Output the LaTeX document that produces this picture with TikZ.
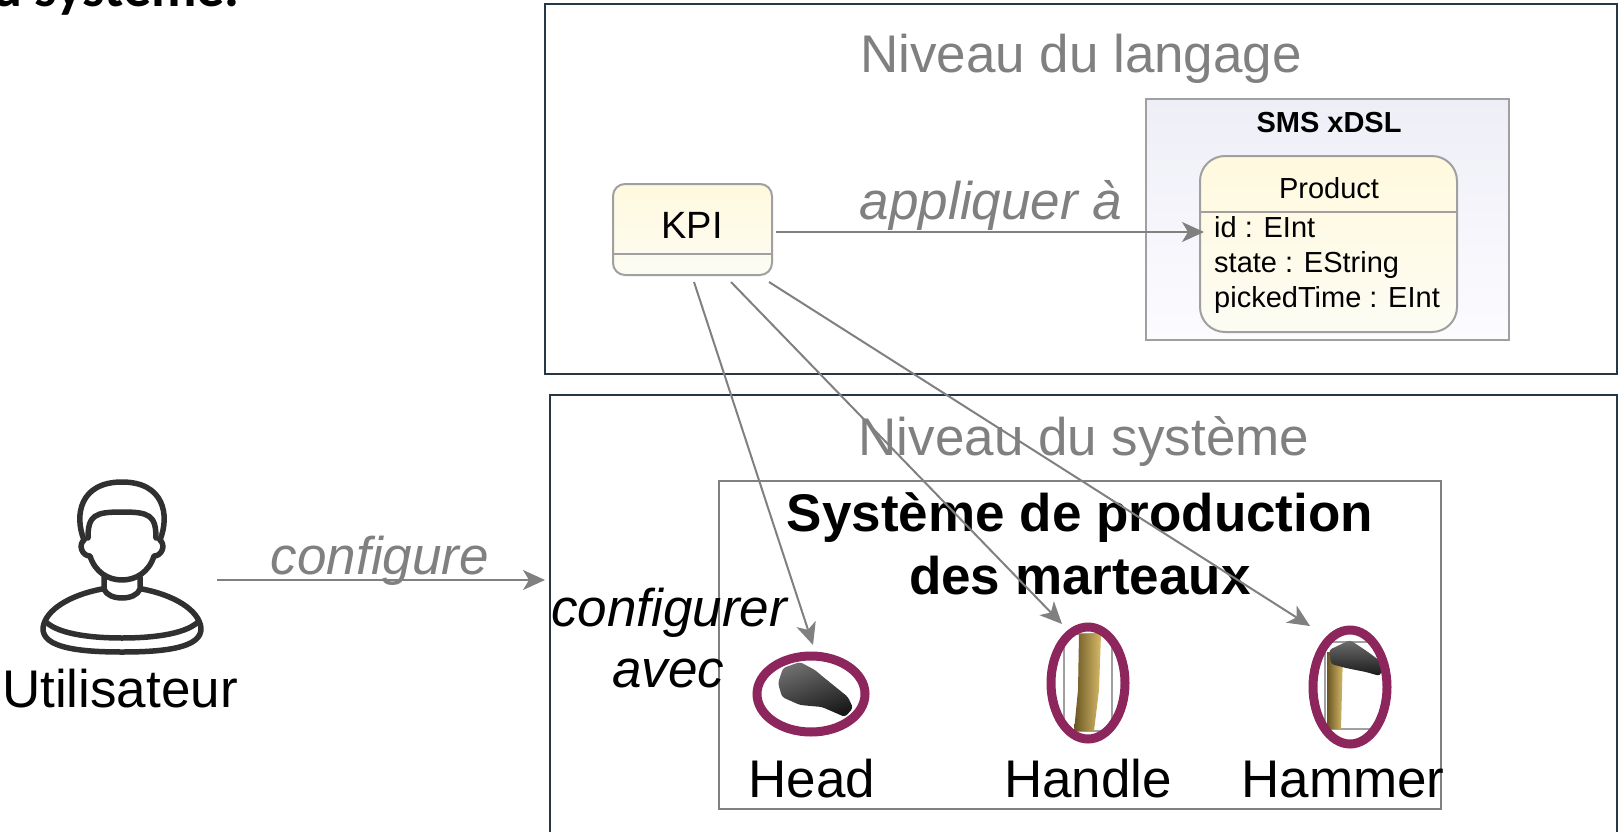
\documentclass[tikz,border=0pt]{standalone}
\usepackage{fontspec}
\setmainfont{Liberation Sans}
\newfontfamily\headingfont{Carlito}
\usetikzlibrary{arrows.meta,shapes.geometric,calc}

\definecolor{linegray}{RGB}{128,128,128}
\definecolor{boxgray}{RGB}{160,160,160}
\definecolor{framedark}{RGB}{38,56,70}
\definecolor{ringpurple}{RGB}{140,38,92}
\definecolor{classtop}{RGB}{255,249,222}
\definecolor{classbot}{RGB}{253,252,244}
\definecolor{pkgtop}{RGB}{238,238,247}
\definecolor{pkgbot}{RGB}{252,252,255}
\definecolor{iconink}{RGB}{48,48,48}
\definecolor{wooddark}{RGB}{105,85,35}
\definecolor{woodlight}{RGB}{214,186,104}
\definecolor{steeldark}{RGB}{25,25,25}
\definecolor{steellight}{RGB}{110,110,110}

\tikzset{
  arr/.style={draw=linegray, line width=2pt,
    -{Stealth[length=22pt,width=20pt,inset=6pt]}},
  big/.style={inner sep=0pt, anchor=base, font=\fontsize{53}{63}\selectfont},
  small/.style={inner sep=0pt, anchor=base, font=\fontsize{29}{35}\selectfont},
  layer/.style={draw=framedark, line width=2pt, inner sep=0pt},
  ring/.style={ellipse, draw=ringpurple, line width=9pt, inner sep=0pt},
  classbox/.style={draw=boxgray, line width=2pt, inner sep=0pt,
    top color=classtop, bottom color=classbot},
  icon/.style={draw=iconink, line width=5.5pt, line cap=round, line join=round},
}

\begin{document}
\begin{tikzpicture}[x=1pt,y=-1pt]
\useasboundingbox (0,0) rectangle (1619,832);
\clip (0,0) rectangle (1619,832);

% heading line running in from above
\node[anchor=base east, inner sep=0pt,
      font=\headingfont\bfseries\fontsize{56}{60}\selectfont] (heading) at (240,7) {du système.};

% ---- language level ----
\node[layer, minimum width=1072pt, minimum height=370pt] (langframe) at (1081,189) {};
\node[big, text=linegray] (langtitle) at (1081,73) {Niveau du langage};

\node[draw=boxgray, line width=2.5pt, inner sep=0pt, top color=pkgtop, bottom color=pkgbot,
      minimum width=363pt, minimum height=241pt] (pkg) at (1327.5,219.5) {};
\node[small, font=\bfseries\fontsize{29}{35}\selectfont] (pkgname) at (1329,132) {SMS xDSL};

\node[classbox, rounded corners=25pt, minimum width=257pt, minimum height=176pt] (product) at (1328.5,244) {};
\draw[boxgray, line width=1.5pt] (product.west |- 0,212) -- (product.east |- 0,212);
\node[small] (prodname) at (1329,198) {Product};
\node[small, anchor=base west] (attrid) at (1214,237) {id : EInt};
\node[small, anchor=base west] (attrstate) at (1214,272) {state : EString};
\node[small, anchor=base west] (attrtime) at (1214,307) {pickedTime : EInt};

\node[classbox, rounded corners=12pt, minimum width=159pt, minimum height=91pt] (kpi) at (692.5,229.5) {};
\draw[boxgray, line width=1.5pt] (kpi.west |- 0,254) -- (kpi.east |- 0,254);
\node[inner sep=0pt, anchor=base, font=\fontsize{38}{45}\selectfont] (kpiname) at (692,238) {KPI};

% ---- system level ----
\node[layer, minimum width=1067pt, minimum height=505pt] (sysframe) at (1083.5,647.5) {};
\node[big, text=linegray] (systitle) at (1084,455) {Niveau du système};

\node[draw=linegray, line width=2pt, inner sep=0pt,
      minimum width=722pt, minimum height=328pt] (plant) at (1080,645) {};
\node[big, font=\bfseries\fontsize{53}{63}\selectfont] (plant1) at (1080,531) {Système de production};
\node[big, font=\bfseries\fontsize{53}{63}\selectfont] (plant2) at (1080,594) {des marteaux};

% part pictures
\begin{scope}
  \clip (811,694) ellipse [x radius=52pt, y radius=36pt];
  \fill[white] (750,650) rectangle (875,740);
  \shade[top color=steellight, bottom color=steeldark, rounded corners=3pt, shading angle=20]
    (778,683) -- (783,668) -- (800,662) -- (815,670) -- (822,676) -- (848,697)
    -- (853,708) -- (845,717) -- (822,707) -- (800,705) -- (782,697) -- cycle;
\end{scope}
\begin{scope}
  \clip (1088,683) ellipse [x radius=35pt, y radius=54pt];
  \draw[boxgray, line width=1.5pt, fill=white] (1064,634) rectangle (1112,731);
  \shade[left color=wooddark, right color=woodlight]
    (1079,634) -- (1101,634) -- (1099,690) -- (1094,731) -- (1074,731) -- (1078,690) -- cycle;
\end{scope}
\begin{scope}
  \clip (1350,687) ellipse [x radius=35pt, y radius=55pt];
  \draw[boxgray, line width=1.5pt, fill=white] (1325,642) rectangle (1386,729);
  \shade[left color=wooddark, right color=woodlight]
    (1327,652) -- (1343,652) -- (1341,729) -- (1327,729) -- cycle;
  \shade[top color=steellight, bottom color=steeldark, rounded corners=3pt]
    (1329,650) -- (1350,640) -- (1368,652) -- (1384,664) -- (1380,676)
    -- (1366,672) -- (1346,668) -- (1331,664) -- cycle;
\end{scope}

\node[ring, minimum width=108pt, minimum height=76pt] (head) at (811,694) {};
\node[ring, minimum width=74pt, minimum height=112pt] (handle) at (1088,683) {};
\node[ring, minimum width=74pt, minimum height=114pt] (hammer) at (1350,687) {};

\node[big] (headname) at (812,797) {Head};
\node[big] (handlename) at (1088,797) {Handle};
\node[big] (hammername) at (1343,797) {Hammer};

\node[big, font=\itshape\fontsize{53}{63}\selectfont] (cfg1) at (669,626) {configurer};
\node[big, font=\itshape\fontsize{53}{63}\selectfont] (cfg2) at (668,687) {avec};

% ---- user ----
\draw[icon] (84,540) .. controls (74,515) and (80,482) .. (122,482)
            .. controls (164,482) and (170,515) .. (160,540);
\draw[icon] (84,540) .. controls (78,545) and (82,556) .. (90,556)
            .. controls (95,572) and (108,580) .. (122,580)
            .. controls (136,580) and (149,572) .. (154,556)
            .. controls (162,556) and (166,545) .. (160,540);
\draw[icon] (88,538) .. controls (88,515) and (95,512) .. (122,512)
            .. controls (149,512) and (156,515) .. (156,538);
\draw[icon] (104,577) -- (104,589) .. controls (108,601) and (136,601) .. (140,589) -- (140,577);
\draw[icon] (102,589) .. controls (70,595) and (45,610) .. (43,628)
            .. controls (42,648) and (80,652) .. (122,652)
            .. controls (164,652) and (202,648) .. (201,628)
            .. controls (199,610) and (174,595) .. (142,589);
\draw[icon] (46,622) .. controls (60,635) and (95,638) .. (122,638)
            .. controls (149,638) and (184,635) .. (198,622);
\node[big] (user) at (120,707) {Utilisateur};

% ---- connectors ----
\coordinate (userout) at (217,580);
\draw[arr, shorten >=4pt] (userout) -- (sysframe.west |- userout);
\node[big, font=\itshape\fontsize{53}{63}\selectfont, text=linegray] (cfglabel) at (380,574) {configure};

\draw[arr] ($(kpi.east)+(3,2.5)$) -- ($(product.west)+(5,-12)$);
\node[big, font=\itshape\fontsize{53}{63}\selectfont, text=linegray] (applylabel) at (991,219) {appliquer à};

\draw[arr] ($(kpi.south)+(1.5,6)$) -- ($(head.north)+(2,-6.5)$);
\draw[arr] ($(kpi.south)+(38.5,6)$) -- ($(handle.north)+(-26,1.5)$);
\draw[arr] ($(kpi.south)+(76.5,6)$) -- ($(hammer.north)+(-40,0.5)$);
\end{tikzpicture}
\end{document}
